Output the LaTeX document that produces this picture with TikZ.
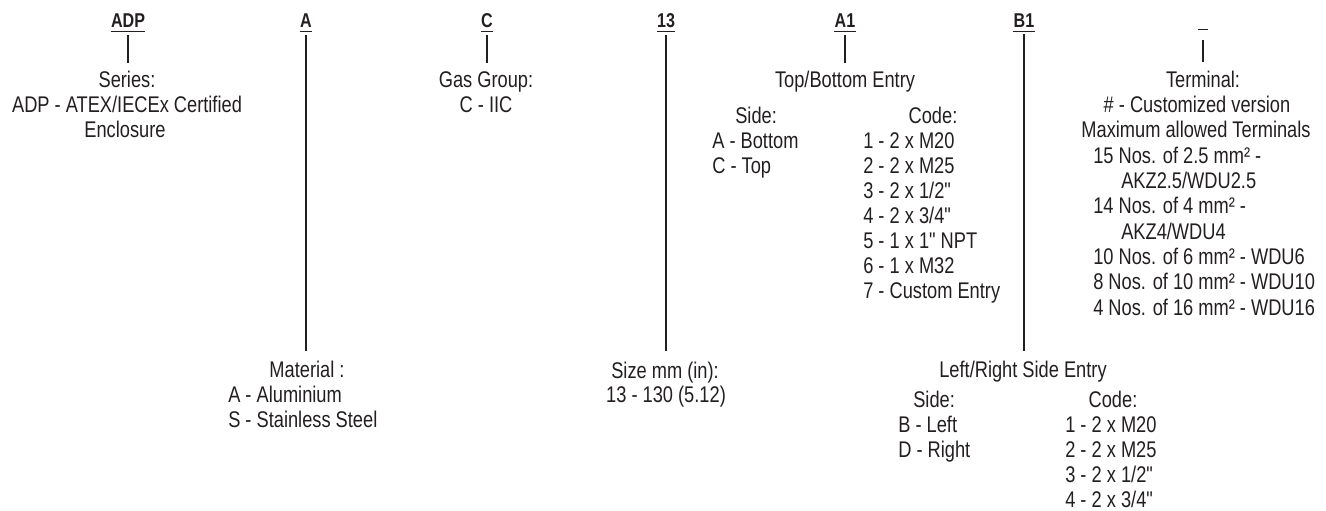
\documentclass[tikz,border=0pt]{standalone}
\usepackage{fontspec}
\setmainfont{Liberation Sans}[FakeStretch=0.805,Ligatures=TeXOff]
\usetikzlibrary{calc}
\definecolor{ink}{HTML}{231F20}
\tikzset{
  txt/.style={inner sep=0pt, text=ink, font=\fontsize{17}{18}\selectfont},
  hdr/.style={inner sep=0pt, text=ink, font=\fontsize{15}{16}\selectfont\bfseries, anchor=base},
  conn/.style={draw=ink, line width=0.9pt},
  uline/.style={draw=ink, line width=1.1pt}
}
\begin{document}
\begin{tikzpicture}[x=0.75pt,y=-0.75pt]
\useasboundingbox (0,0) rectangle (1326,510);
% headers
\node[hdr] (hADP) at (128,28) {ADP};
\node[hdr] (hA)   at (306,28) {A};
\node[hdr] (hC)   at (487,28) {C};
\node[hdr] (h13)  at (666,28) {13};
\node[hdr] (hA1)  at (845,28) {A1};
\node[hdr] (hB1)  at (1024,28) {B1};
\node[hdr] (hT)   at (1203,26) {\phantom{0}};
\foreach \n in {hADP,hA,hC,h13,hA1,hB1}
  \draw[uline] ($(\n.base west)+(0,3.5)$) -- ($(\n.base east)+(0,3.5)$);
\draw[uline] ($(hT.base west)+(0,3.5)$) -- ($(hT.base east)+(0,3.5)$);
% Series
\node[txt, anchor=base] (ser1) at (127,87) {Series:};
\node[txt, anchor=base] (ser2) at (127,112) {ADP - ATEX/IECEx Certified};
\node[txt, anchor=base] (ser3) at (125,137) {Enclosure};
% Material
\node[txt, anchor=base] (mat1) at (307,377) {Material :};
\node[txt, anchor=base west] (mat2) at (228,402) {A - Aluminium};
\node[txt, anchor=base west] (mat3) at (228,427) {S - Stainless Steel};
% Gas group
\node[txt, anchor=base] (gas1) at (486,88) {Gas Group:};
\node[txt, anchor=base] (gas2) at (486,112) {C - IIC};
% Size
\node[txt, anchor=base] (siz1) at (665,378) {Size mm (in):};
\node[txt, anchor=base] (siz2) at (666,402) {13 - 130 (5.12)};
% Top/Bottom entry
\node[txt, anchor=base] (tb) at (845,88) {Top/Bottom Entry};
\node[txt, anchor=base west] (tbs) at (735,123) {Side:};
\node[txt, anchor=base west] (tbs1) at (712,148) {A - Bottom};
\node[txt, anchor=base west] (tbs2) at (712,173) {C - Top};
\node[txt, anchor=base] (tbc) at (933,123) {Code:};
\foreach \t [count=\i] in {1 - 2 x M20, 2 - 2 x M25, 3 - 2 x 1/2", 4 - 2 x 3/4", 5 - 1 x 1" NPT, 6 - 1 x M32, 7 - Custom Entry}
  \node[txt, anchor=base west] (tbc\i) at (863,{148+25*(\i-1)}) {\t};
% Left/Right entry
\node[txt, anchor=base] (lr) at (1023,377) {Left/Right Side Entry};
\node[txt, anchor=base west] (lrs) at (913,407) {Side:};
\node[txt, anchor=base west] (lrs1) at (898,432) {B - Left};
\node[txt, anchor=base west] (lrs2) at (898,457) {D - Right};
\node[txt, anchor=base] (lrc) at (1113,407) {Code:};
\foreach \t [count=\i] in {1 - 2 x M20, 2 - 2 x M25, 3 - 2 x 1/2", 4 - 2 x 3/4"}
  \node[txt, anchor=base west] (lrc\i) at (1065,{432+25*(\i-1)}) {\t};
% Terminal
\node[txt, anchor=base] (te1) at (1203,87) {Terminal:};
\node[txt, anchor=base] (te2) at (1197,112.3) {\# - Customized version};
\node[txt, anchor=base] (te3) at (1196,137.7) {Maximum allowed Terminals};
\node[txt, anchor=base west] (te4) at (1093,163) {15 Nos. of 2.5 mm² -};
\node[txt, anchor=base west] (te5) at (1121,188.3) {AKZ2.5/WDU2.5};
\node[txt, anchor=base west] (te6) at (1093,213.7) {14 Nos. of 4 mm² -};
\node[txt, anchor=base west] (te7) at (1121,239) {AKZ4/WDU4};
\node[txt, anchor=base west] (te8) at (1093,264.3) {10 Nos. of 6 mm² - WDU6};
\node[txt, anchor=base west] (te9) at (1093,289.7) {8 Nos. of 10 mm² - WDU10};
\node[txt, anchor=base west] (te10) at (1093,315) {4 Nos. of 16 mm² - WDU16};
% connectors
\draw[conn] ($(hADP.base)+(0,7)$) -- ($(hADP.base |- ser1.base)+(0,-24)$);
\draw[conn] ($(hC.base)+(0,7)$) -- ($(hC.base |- gas1.base)+(0,-25)$);
\draw[conn] ($(hA1.base)+(0,7)$) -- ($(hA1.base |- tb.base)+(0,-25)$);
\draw[conn] ($(hT.base)+(0,14)$) -- ($(hT.base |- te1.base)+(0,-25)$);
\draw[conn] ($(hA.base)+(0,7)$) -- ($(hA.base |- mat1.base)+(0,-26)$);
\draw[conn] ($(h13.base)+(0,7)$) -- ($(h13.base |- siz1.base)+(0,-27)$);
\draw[conn] ($(hB1.base)+(0,6)$) -- ($(hB1.base |- lr.base)+(0,-26)$);
\end{tikzpicture}
\end{document}
